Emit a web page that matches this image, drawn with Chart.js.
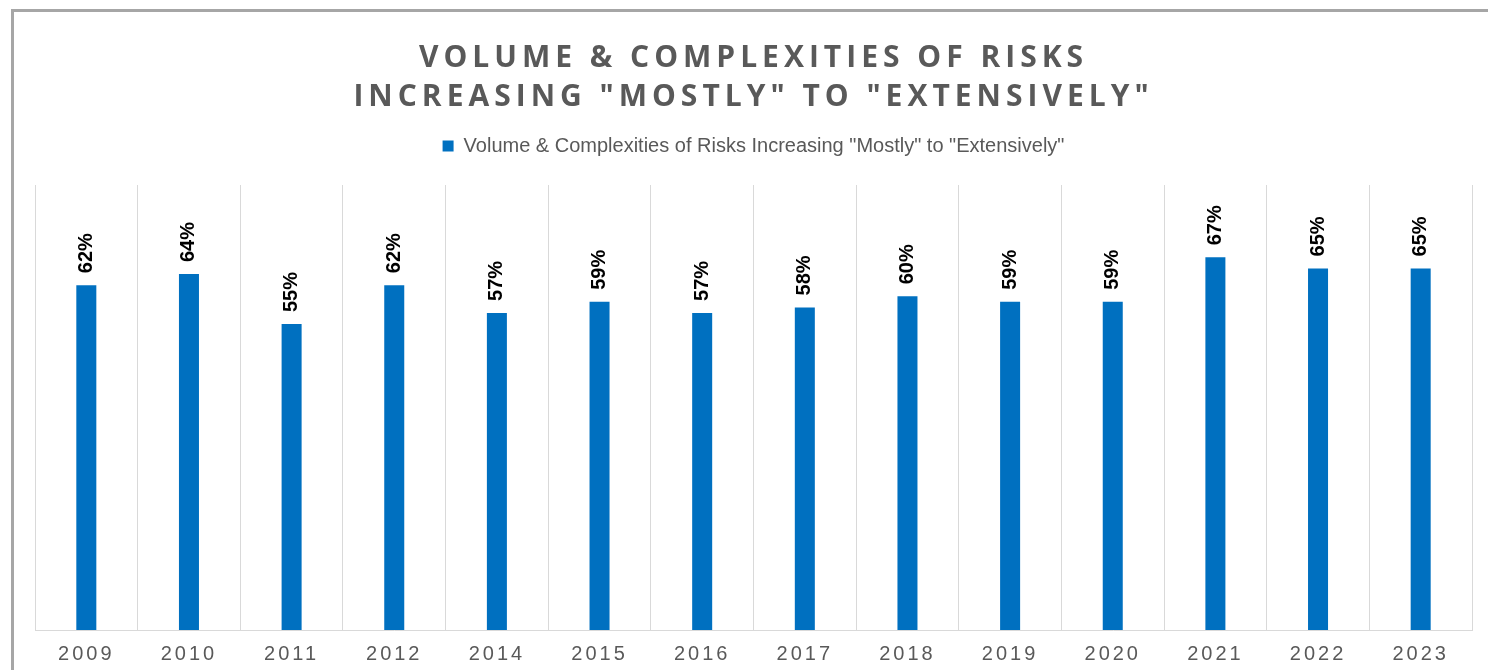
<!DOCTYPE html>
<html>
<head>
<meta charset="utf-8">
<script src="https://cdn.jsdelivr.net/npm/chart.js@4.4.0/dist/chart.umd.min.js"></script>
<style>
  html, body { margin: 0; padding: 0; background: #fff; }
  #frame { position: absolute; left: 11px; top: 9px; width: 1600px; height: 800px;
           border-left: 3px solid #a6a6a6; border-top: 3px solid #a6a6a6; }
  #wrap { position: absolute; left: 0; top: 0; width: 1488px; height: 670px; }
</style>
</head>
<body>
<div id="frame"></div>
<div id="wrap"><canvas id="chart" width="1488" height="670"></canvas></div>
<script>
const years = ['2009','2010','2011','2012','2014','2015','2016','2017','2018','2019','2020','2021','2022','2023'];
const pctValues = [62, 64, 55, 62, 57, 59, 57, 58, 60, 59, 59, 67, 65, 65];
const seriesName = 'Volume & Complexities of Risks Increasing "Mostly" to "Extensively"';
const titleLines = ['VOLUME & COMPLEXITIES OF RISKS', 'INCREASING "MOSTLY" TO "EXTENSIVELY"'];

// draws the rotated % labels above each bar
const barLabels = {
    id: 'barLabels',
    afterDatasetsDraw(chart){
        const ctx = chart.ctx;
        const meta = chart.getDatasetMeta(0);
        ctx.save();
        ctx.font = 'bold 20px "Liberation Sans", Arial, sans-serif';
        ctx.fillStyle = '#000';
        ctx.textAlign = 'left';
        ctx.textBaseline = 'middle';
        meta.data.forEach((bar, i) => {
            ctx.save();
            ctx.translate(bar.x, bar.y - 12);
            ctx.rotate(-Math.PI / 2);
            ctx.fillText(pctValues[i] + '%', 0, 0);
            ctx.restore();
        });
        ctx.restore();
    }
};

// letter spacing for title and x tick labels, plus gap under legend
const tweaks = {
    id: 'tweaks',
    beforeInit(chart){
        if (chart.legend){
            const fit = chart.legend.fit;
            chart.legend.fit = function(){
                fit.call(this);
                this.height += 19;
            };
        }
    },
    beforeDraw(chart){
        const x = chart.scales.x;
        if (x && !x._spaced){
            const orig = x.drawLabels;
            x.drawLabels = function(area){
                this.ctx.save();
                this.ctx.letterSpacing = '3px';
                orig.call(this, area);
                this.ctx.restore();
            };
            x._spaced = true;
        }
        const t = chart.titleBlock;
        if (t && !t._spaced){
            const origT = t.draw;
            t.draw = function(){
                this.ctx.save();
                this.ctx.letterSpacing = '5px';
                origT.call(this);
                this.ctx.restore();
            };
            t._spaced = true;
        }
    }
};

const ctx = document.getElementById('chart').getContext('2d');
new Chart(ctx, {
    type: 'bar',
    data: {
        labels: years,
        datasets: [{
            label: seriesName,
            data: pctValues,
            backgroundColor: '#0070c0',
            borderWidth: 0,
            barPercentage: 0.195,
            categoryPercentage: 1
        }]
    },
    options: {
        responsive: false,
        animation: false,
        layout: { padding: { left: 35, right: 16, top: 0, bottom: 0 } },
        plugins: {
            title: {
                display: true,
                text: titleLines,
                color: '#595959',
                font: { family: '"Open Sans", sans-serif', size: 30, weight: 'bold', lineHeight: 1.3 },
                padding: { top: 39, bottom: 9 }
            },
            legend: {
                display: true,
                labels: {
                    color: '#595959',
                    font: { family: '"Liberation Sans", Arial, sans-serif', size: 20 },
                    boxWidth: 11,
                    boxHeight: 11,
                    padding: 10
                }
            },
            tooltip: { enabled: false }
        },
        scales: {
            x: {
                grid: { display: true, color: '#d9d9d9', offset: true, drawTicks: false },
                border: { display: true, color: '#d9d9d9' },
                ticks: {
                    color: '#595959',
                    padding: 12,
                    font: { family: '"Liberation Sans", Arial, sans-serif', size: 20 }
                },
                afterFit(scale){
                    scale.height = 40;
                }
            },
            y: {
                display: false,
                min: 0,
                max: 80
            }
        }
    },
    plugins: [barLabels, tweaks]
});
</script>
</body>
</html>
